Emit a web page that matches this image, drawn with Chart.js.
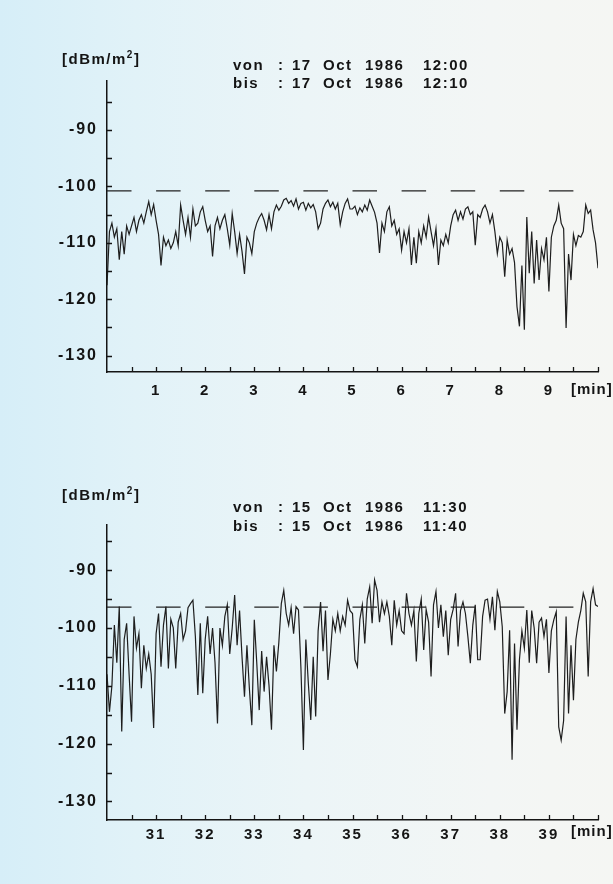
<!DOCTYPE html>
<html>
<head>
<meta charset="utf-8">
<script src="https://cdn.jsdelivr.net/npm/chart.js@4.4.0/dist/chart.umd.min.js"></script>
<style>
  html, body { margin: 0; padding: 0; }
  body {
    width: 613px; height: 884px; overflow: hidden;
    background: linear-gradient(90deg, #d6eef8 0%, #e1f2f8 22%, #ecf5f7 50%, #f3f6f5 80%, #f5f6f3 100%);
  }
  .panel { position: absolute; left: 0; width: 613px; height: 442px; }
  #top { top: 0; }
  #bottom { top: 442px; }
</style>
</head>
<body>
<div class="panel" id="top"><canvas id="chartTop"></canvas></div>
<div class="panel" id="bottom"><canvas id="chartBottom"></canvas></div>
<script>
// one reading every 3 seconds (0.05 min)
const sampleStep = 0.05;
const topStart = 0;
const bottomStart = 30;

// 17 Oct 1986 12:00 - 12:10, dBm/m2
const topLevels = [
  -117.5, -108, -106.5, -109, -107.5, -113, -108, -112, -107, -108.5,
  -107, -105.5, -108, -106, -105, -106.5, -104.5, -102.7, -105, -103.2,
  -106, -108.5, -114, -109, -110.5, -109.5, -111, -110, -108, -110.5,
  -103.3, -106, -108.5, -105.5, -109, -104, -107, -106.5, -104.5, -103.6,
  -106, -108, -107, -112.4, -107, -105.5, -107.5, -106, -105, -107.5,
  -110.4, -104.8, -108, -111.9, -108.5, -111.5, -115.5, -109, -110, -111.9,
  -108, -106.5, -105.5, -104.8, -106, -107.7, -105, -107.5, -104.5, -103.3,
  -104.2, -103.5, -102.4, -102.1, -103, -102.5, -103.5, -102.2, -104, -103,
  -102.8, -104.2, -103, -103.8, -103.2, -104.5, -107.5, -106.5, -104, -103,
  -102.4, -103.6, -102.8, -104, -103, -106.8, -104.5, -103, -102.2, -104,
  -104, -103.5, -105, -103.8, -104.5, -103.3, -104.2, -102.4, -103.5, -104.6,
  -106.5, -111.8, -106.5, -108, -104.5, -103.6, -107, -106, -108.5, -107.5,
  -111.3, -108, -110, -107.5, -113.9, -109, -113.6, -108, -110, -107,
  -109, -105.4, -108, -110.5, -107.5, -113.9, -109.5, -110.5, -108.5, -110,
  -107, -105, -104.2, -106, -104.5, -105.8, -104, -103.6, -105, -104.5,
  -110.4, -105, -105.5, -104, -103.3, -104.5, -106.5, -105, -108, -111.9,
  -109, -110, -116, -109.5, -112, -111, -113.5, -121.3, -124.8, -114,
  -125.4, -105.4, -115.4, -108, -117.2, -109.5, -116.6, -111, -113, -109,
  -118.6, -109, -107, -106, -103.3, -106.5, -107.5, -125.1, -112, -116.6,
  -108.5, -110.5, -108.7, -109, -108, -103.3, -104.8, -104.2, -107.7, -110,
  -114.5
];

// 15 Oct 1986 11:30 - 11:40, dBm/m2
const bottomLevels = [
  -108, -114.5, -110, -99.5, -106, -96.3, -117.9, -102, -99.2, -108,
  -116.2, -98, -103.5, -101, -110.4, -103, -107, -104.5, -108, -117.3,
  -101, -97.5, -106.7, -99.5, -96.3, -107, -98.5, -100, -107, -99,
  -97.5, -102, -100.5, -96.5, -95.8, -95.2, -101.5, -111.6, -99.2, -111.3,
  -102, -98, -104.5, -100, -106, -116.5, -100, -103, -98, -96,
  -104.5, -100, -94.3, -103, -97, -105, -111.9, -103, -110.5, -116.8,
  -98.6, -106, -114.2, -104, -111, -105, -110, -117.6, -103, -107.5,
  -102.5, -95.8, -93.5, -97.5, -99.5, -96.5, -101, -96.3, -96.9, -107,
  -121.1, -102, -109.5, -115.9, -105, -115.3, -100.5, -95.5, -104, -97,
  -109, -104.5, -98.5, -100.5, -97.5, -100.5, -98, -99.5, -95.2, -97,
  -97.5, -105.5, -106.7, -98.5, -96, -102.7, -95, -92.9, -99.2, -91.7,
  -93.5, -99, -95.5, -97.5, -95.5, -98, -103, -95.2, -99.5, -97,
  -100.5, -101, -94, -97.5, -99.5, -97, -105.8, -97.5, -95, -103.8,
  -96.8, -99, -108.4, -96, -93.7, -100, -96, -101.5, -97, -104.7,
  -98.5, -96.8, -94, -103.2, -97, -95.5, -97.5, -101.5, -106.1, -99.5,
  -96, -105.5, -105.5, -98, -95.2, -95, -98.5, -94.6, -100.4, -93.7,
  -95.5, -99.8, -114.8, -111, -100.4, -122.8, -102.7, -117.6, -105.5, -100.5,
  -103.5, -96.9, -106, -97, -100, -106.1, -99, -98.3, -101.5, -98.5,
  -107.8, -100.5, -98.6, -97.2, -117.1, -119.4, -116, -98, -114.8, -103,
  -112.5, -102, -99, -97, -94, -95.5, -108.4, -95.5, -93.2, -96,
  -96.3
];

// dashed reference levels
const topLimit = -100.8;
const bottomLimit = -96.4;

const levelTicks = [-90, -100, -110, -120, -130];
const levelMarks = [-85, -90, -95, -100, -105, -110, -115, -120, -125, -130];
const topMinuteTicks = [1, 2, 3, 4, 5, 6, 7, 8, 9];
const topMinuteMarks = [0.5, 1, 1.5, 2, 2.5, 3, 3.5, 4, 4.5, 5, 5.5, 6, 6.5, 7, 7.5, 8, 8.5, 9, 9.5, 10];
const bottomMinuteTicks = [31, 32, 33, 34, 35, 36, 37, 38, 39];
const bottomMinuteMarks = [30.5, 31, 31.5, 32, 32.5, 33, 33.5, 34, 34.5, 35, 35.5, 36, 36.5, 37, 37.5, 38, 38.5, 39, 39.5, 40];

const topFrom = ['von', ':', '17', 'Oct', '1986', '12:00'];
const topTo = ['bis', ':', '17', 'Oct', '1986', '12:10'];
const bottomFrom = ['von', ':', '15', 'Oct', '1986', '11:30'];
const bottomTo = ['bis', ':', '15', 'Oct', '1986', '11:40'];

const ink = '#141414';
const fontFamily = '"Liberation Sans", Arial, Helvetica, sans-serif';
const columns = [233, 278, 292, 323, 365, 423];

const toPoints = (start, levels) => levels.map((v, i) => ({ x: start + i * sampleStep, y: v }));

// small inward tick marks, unit label, header lines and [min]
const paperMarks = {
  id: 'paperMarks',
  beforeDraw(chart) {
    chart.ctx.letterSpacing = '2px';
  },
  afterDraw(chart, args, o) {
    const { ctx, chartArea: a, scales: { x, y } } = chart;
    ctx.save();
    ctx.strokeStyle = ink;
    ctx.lineWidth = 1.3;
    ctx.beginPath();
    o.yMarks.forEach(v => {
      const py = Math.round(y.getPixelForValue(v)) + 0.5;
      ctx.moveTo(a.left, py);
      ctx.lineTo(a.left + 5, py);
    });
    o.xMarks.forEach(v => {
      const px = Math.round(x.getPixelForValue(v)) + 0.5;
      ctx.moveTo(px, a.bottom);
      ctx.lineTo(px, a.bottom - 5);
    });
    ctx.stroke();

    ctx.fillStyle = ink;
    ctx.textBaseline = 'alphabetic';
    ctx.textAlign = 'left';
    ctx.letterSpacing = '1.5px';
    ctx.font = 'bold 15px ' + fontFamily;

    // [dBm/m2]
    let ux = 62;
    ctx.fillText('[dBm/m', ux, o.unitY);
    ux += ctx.measureText('[dBm/m').width;
    ctx.font = 'bold 10px ' + fontFamily;
    ctx.fillText('2', ux, o.unitY - 6);
    ux += ctx.measureText('2').width;
    ctx.font = 'bold 15px ' + fontFamily;
    ctx.fillText(']', ux, o.unitY);

    o.from.forEach((s, i) => ctx.fillText(s, columns[i], o.fromY));
    o.to.forEach((s, i) => ctx.fillText(s, columns[i], o.toY));

    ctx.letterSpacing = '1px';
    ctx.fillText('[min]', 571, o.minY);
    ctx.restore();
  }
};

function drawPanel(canvasId, start, levels, limit, minuteTicks, minuteMarks, marks) {
  const end = start + (levels.length - 1) * sampleStep;
  return new Chart(document.getElementById(canvasId), {
    type: 'line',
    data: {
      datasets: [{
        data: toPoints(start, levels),
        borderColor: '#1e1e1e',
        borderWidth: 1.2,
        pointRadius: 0,
        tension: 0
      }, {
        data: [{ x: start, y: limit }, { x: end, y: limit }],
        borderColor: '#222',
        borderWidth: 1.3,
        borderDash: [24.5, 24.6],
        pointRadius: 0
      }]
    },
    options: {
      responsive: true,
      maintainAspectRatio: false,
      animation: false,
      events: [],
      layout: { padding: { left: 0, right: 15, top: marks.top, bottom: marks.bottom } },
      plugins: {
        legend: { display: false },
        tooltip: { enabled: false },
        paperMarks: {
          yMarks: levelMarks,
          xMarks: minuteMarks,
          unitY: marks.unitY, fromY: marks.fromY, toY: marks.toY, minY: marks.minY,
          from: marks.from, to: marks.to
        }
      },
      scales: {
        x: {
          type: 'linear',
          min: start,
          max: end,
          afterFit: s => { s.height = 40; },
          afterBuildTicks: s => { s.ticks = minuteTicks.map(v => ({ value: v })); },
          grid: { display: true, drawOnChartArea: false, drawTicks: false },
          border: { color: ink, width: 1.5 },
          ticks: {
            color: ink,
            padding: marks.xPad,
            maxRotation: 0,
            autoSkip: false,
            font: { family: fontFamily, size: 15, weight: 'bold' }
          }
        },
        y: {
          min: marks.yMin,
          max: marks.yMax,
          afterFit: s => { s.width = 107; },
          afterBuildTicks: s => { s.ticks = levelTicks.map(v => ({ value: v })); },
          grid: { display: true, drawOnChartArea: false, drawTicks: false },
          border: { color: ink, width: 1.5 },
          ticks: {
            color: ink,
            padding: 9,
            font: { family: fontFamily, size: 16, weight: 'bold' }
          }
        }
      }
    },
    plugins: [paperMarks]
  });
}

drawPanel('chartTop', topStart, topLevels, topLimit, topMinuteTicks, topMinuteMarks, {
  top: 81, bottom: 30, yMin: -132.9, yMax: -81.3, xPad: 10,
  unitY: 64, fromY: 70, toY: 88, minY: 394,
  from: topFrom, to: topTo
});

drawPanel('chartBottom', bottomStart, bottomLevels, bottomLimit, bottomMinuteTicks, bottomMinuteMarks, {
  top: 83, bottom: 24, yMin: -133.2, yMax: -82.2, xPad: 6,
  unitY: 58, fromY: 70, toY: 89, minY: 394,
  from: bottomFrom, to: bottomTo
});
</script>
</body>
</html>
